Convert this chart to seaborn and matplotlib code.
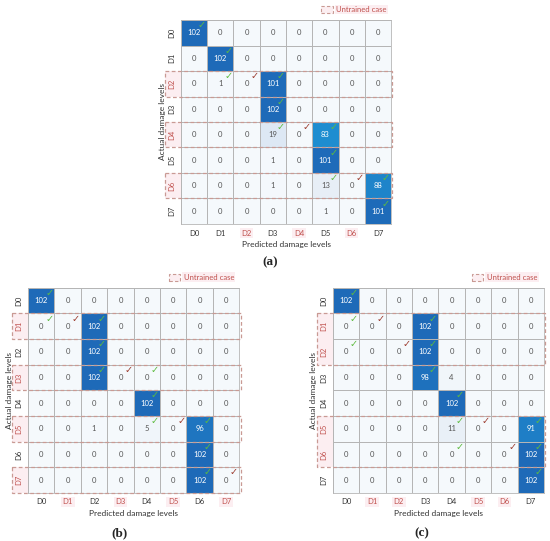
import matplotlib
matplotlib.use("Agg")
import matplotlib.pyplot as plt
import seaborn as sns
import numpy as np
from matplotlib.colors import LinearSegmentedColormap
from matplotlib.patches import Rectangle

levels = ["D0", "D1", "D2", "D3", "D4", "D5", "D6", "D7"]

# confusion matrices (rows = actual, cols = predicted)
cm_a = [[102, 0, 0, 0, 0, 0, 0, 0],
        [0, 102, 0, 0, 0, 0, 0, 0],
        [0, 1, 0, 101, 0, 0, 0, 0],
        [0, 0, 0, 102, 0, 0, 0, 0],
        [0, 0, 0, 19, 0, 83, 0, 0],
        [0, 0, 0, 1, 0, 101, 0, 0],
        [0, 0, 0, 1, 0, 13, 0, 88],
        [0, 0, 0, 0, 0, 1, 0, 101]]
cm_b = [[102, 0, 0, 0, 0, 0, 0, 0],
        [0, 0, 102, 0, 0, 0, 0, 0],
        [0, 0, 102, 0, 0, 0, 0, 0],
        [0, 0, 102, 0, 0, 0, 0, 0],
        [0, 0, 0, 0, 102, 0, 0, 0],
        [0, 0, 1, 0, 5, 0, 96, 0],
        [0, 0, 0, 0, 0, 0, 102, 0],
        [0, 0, 0, 0, 0, 0, 102, 0]]
cm_c = [[102, 0, 0, 0, 0, 0, 0, 0],
        [0, 0, 0, 102, 0, 0, 0, 0],
        [0, 0, 0, 102, 0, 0, 0, 0],
        [0, 0, 0, 98, 4, 0, 0, 0],
        [0, 0, 0, 0, 102, 0, 0, 0],
        [0, 0, 0, 0, 11, 0, 0, 91],
        [0, 0, 0, 0, 0, 0, 0, 102],
        [0, 0, 0, 0, 0, 0, 0, 102]]

# untrained cases: groups of (first row, number of rows)
untrained_a = [(2, 1), (4, 1), (6, 1)]
untrained_b = [(1, 1), (3, 1), (5, 1), (7, 1)]
untrained_c = [(1, 2), (5, 2)]

# check marks: (row, col, kind) g = green, r = dark red
checks_a = [(0, 0, "g"), (1, 1, "g"), (2, 1, "g"), (2, 2, "r"), (2, 3, "g"),
            (3, 3, "g"), (4, 3, "g"), (4, 4, "r"), (4, 5, "g"), (5, 5, "g"),
            (6, 5, "g"), (6, 6, "r"), (6, 7, "g"), (7, 7, "g")]
checks_b = [(0, 0, "g"), (1, 0, "g"), (1, 1, "r"), (1, 2, "g"), (2, 2, "g"),
            (3, 2, "g"), (3, 3, "r"), (3, 4, "g"), (4, 4, "g"), (5, 4, "g"),
            (5, 5, "r"), (5, 6, "g"), (6, 6, "g"), (7, 6, "g"), (7, 7, "r")]
checks_c = [(0, 0, "g"), (1, 0, "g"), (1, 1, "r"), (1, 3, "g"), (2, 0, "g"),
            (2, 2, "r"), (2, 3, "g"), (3, 3, "g"), (4, 4, "g"), (5, 4, "g"),
            (5, 5, "r"), (5, 7, "g"), (6, 4, "g"), (6, 6, "r"), (6, 7, "g"),
            (7, 7, "g")]

RED = "#C0504D"
DASH = "#C99A94"
PINK = "#FCEEF1"
cmap = LinearSegmentedColormap.from_list(
    "cm", [(0, "#F5F9FC"), (0.15, "#E4ECF5"), (0.5, "#9CC3E6"),
           (0.8, "#1E90D2"), (1, "#1E6AB8")])

sns.set_style("white")
plt.rcParams["font.family"] = ["Lato", "DejaVu Sans"]

fig = plt.figure(figsize=(5.5, 5.41), dpi=100)


def panel(rect, cm, untrained, checks, letter, letter_xy, legend_xy):
    ax = fig.add_axes(rect)
    data = np.array(cm)
    sns.heatmap(data, ax=ax, cmap=cmap, vmin=0, vmax=102, annot=True, fmt="d",
                cbar=False, linewidths=0.6, linecolor="#B5B5B5", square=False,
                annot_kws={"size": 5.5}, xticklabels=levels, yticklabels=levels)
    for t in ax.texts:
        v = int(t.get_text())
        t.set_color("white" if v > 50 else "#555555")
    for s in ax.spines.values():
        s.set_visible(True)
        s.set_color("#B5B5B5")
        s.set_linewidth(0.6)
    red_rows = set()
    for r0, n in untrained:
        red_rows.update(range(r0, r0 + n))
        # pink tint only behind the row labels
        ax.add_patch(Rectangle((-0.6, r0), 0.6, n, facecolor=PINK, edgecolor="none",
                               clip_on=False, zorder=0.5))
        ax.add_patch(Rectangle((-0.6, r0), 8.65, n, fill=False, edgecolor=DASH,
                               linestyle=(0, (3, 2)), linewidth=0.9,
                               clip_on=False, zorder=5))
    ax.tick_params(axis="both", length=0, labelsize=5.5, pad=4)
    ax.set_yticklabels(levels, rotation=90, va="center")
    ax.set_xticklabels(levels, rotation=0)
    for i, lab in enumerate(ax.get_yticklabels()):
        lab.set_color(RED if i in red_rows else "#333333")
        lab.set_zorder(6)
    for i, lab in enumerate(ax.get_xticklabels()):
        if i in red_rows:
            lab.set_color(RED)
            lab.set_bbox(dict(facecolor=PINK, edgecolor="none", pad=1.2))
        else:
            lab.set_color("#333333")
    ax.set_xlabel("Predicted damage levels", fontsize=6, color="#333333", labelpad=3)
    ax.set_ylabel("Actual damage levels", fontsize=6, color="#333333", labelpad=2)
    for r, c, k in checks:
        ax.text(c + 0.8, r + 0.2, "\u2713", fontsize=7, ha="center", va="center",
                color="#5DBB3F" if k == "g" else "#9C3B2E",
                family="DejaVu Sans", fontweight="bold", zorder=6)
    fig.text(letter_xy[0], letter_xy[1], letter, fontsize=9.5, fontweight="bold",
             family="Liberation Serif", ha="center", va="center")
    lx, ly = legend_xy
    fig.patches.append(Rectangle((lx, ly), 0.021, 0.013, transform=fig.transFigure,
                                 facecolor=PINK, edgecolor=DASH,
                                 linestyle=(0, (3, 2)), linewidth=0.8))
    fig.text(lx + 0.027, ly + 0.0065, "Untrained case", fontsize=5.5, color=RED,
             va="center", ha="left",
             bbox=dict(facecolor=PINK, edgecolor="none", pad=1.0))
    return ax


panel([0.329, 0.586, 0.382, 0.377], cm_a, untrained_a, checks_a,
      "(a)", (0.491, 0.516), (0.584, 0.976))
panel([0.051, 0.089, 0.384, 0.379], cm_b, untrained_b, checks_b,
      "(b)", (0.218, 0.015), (0.307, 0.481))
panel([0.605, 0.089, 0.384, 0.379], cm_c, untrained_c, checks_c,
      "(c)", (0.767, 0.015), (0.858, 0.481))

fig.savefig("out.png", dpi=100, facecolor="white")
